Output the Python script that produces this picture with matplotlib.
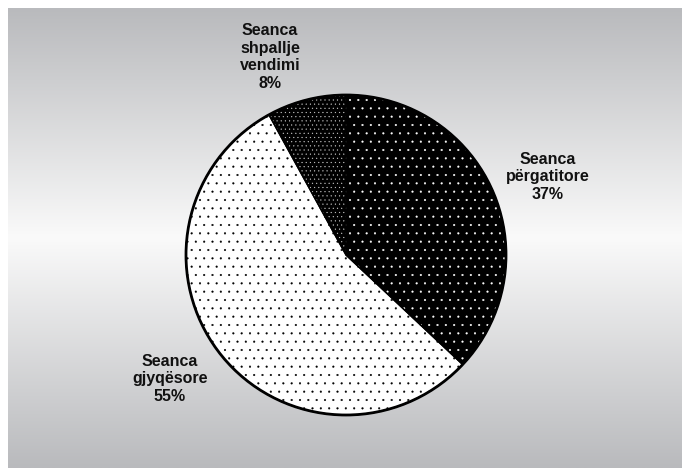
import numpy as np
import matplotlib.pyplot as plt

# DATA --->
names = ['Seanca\npërgatitore', 'Seanca\ngjyqësore', 'Seanca\nshpallje\nvendimi']
shares = [37, 55, 8]
face_cols = ['black', 'white', 'black']
dot_cols = ['white', 'black', '#c8c8c8']
hatches = ['..', '..', '....']
# <--- DATA

plt.rcParams['font.family'] = ['Liberation Sans', 'DejaVu Sans']
plt.rcParams['hatch.linewidth'] = 0.3

W, H = 682, 468
fig = plt.figure(figsize=(W / 100, H / 100), dpi=100)
fig.patch.set_facecolor('white')

# gradient panel
bg = fig.add_axes([8 / W, 0, 1 - 8 / W, 1 - 8 / H])
t = np.linspace(0, 1, 256)
shade = 1 - np.abs(t - 0.5) * 2
top = np.array([185, 186, 189]) / 255
mid = np.array([250, 250, 250]) / 255
grad = top[None, :] + (mid - top)[None, :] * shade[:, None]
bg.imshow(grad[:, None, :], aspect='auto', extent=[0, 1, 0, 1])
bg.set_axis_off()

# pie in pixel coordinates
ax = fig.add_axes([0, 0, 1, 1])
ax.set_aspect('equal')
ax.patch.set_alpha(0)

cx, cy, r = 346, H - 255, 160

wedges, _ = ax.pie(shares, startangle=90, counterclock=False,
                   center=(cx, cy), radius=r, frame=True)
for w, fc, dc, h in zip(wedges, face_cols, dot_cols, hatches):
    w.set_facecolor(fc)
    w.set_edgecolor(dc)
    w.set_hatch(h)
    w.set_linewidth(0)

# outlines
outl, _ = ax.pie(shares, startangle=90, counterclock=False,
                 center=(cx, cy), radius=r, frame=True,
                 wedgeprops=dict(fill=False, edgecolor='black', linewidth=1.0))
circle = plt.Circle((cx, cy), r, fill=False, edgecolor='black', linewidth=2.0)
ax.add_patch(circle)
ax.set_xlim(0, W)
ax.set_ylim(0, H)
ax.set_axis_off()

label_pos = [(548, 177), (170, 379), (270, 57)]
for name, v, (x, y) in zip(names, shares, label_pos):
    ax.text(x, H - y, '%s\n%d%%' % (name, v), ha='center', va='center',
            fontsize=11.5, fontweight='bold', color='#111111', linespacing=1.2)

fig.savefig('out.png', dpi=100)
